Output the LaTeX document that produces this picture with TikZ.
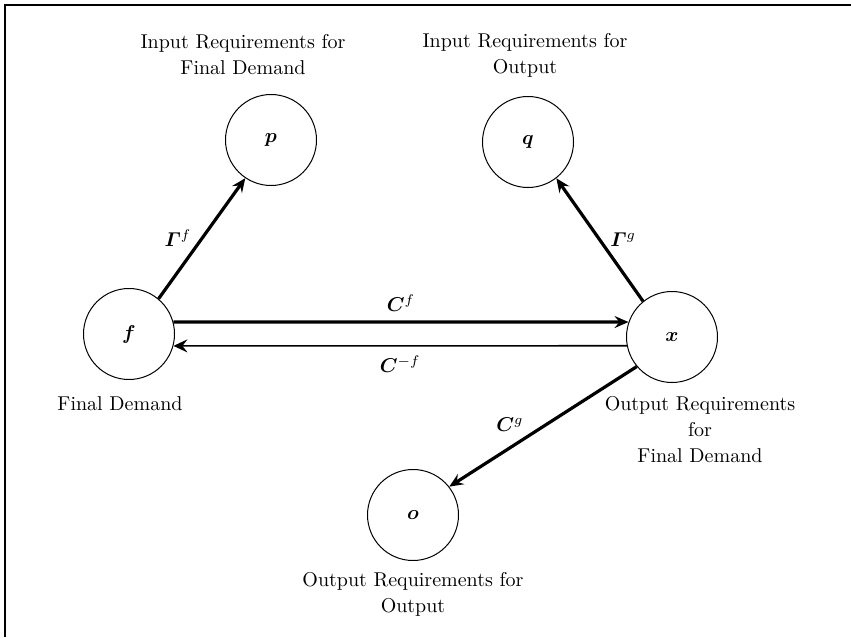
\documentclass[tikz,border=0pt]{standalone}
\usepackage{amsmath}
\usepackage{bm}
\usetikzlibrary{arrows.meta}
\begin{document}
\begin{tikzpicture}[x=0.5pt,y=-0.5pt,
  vnode/.style={circle,draw,line width=0.5pt,minimum size=45.5pt,inner sep=0pt},
  captext/.style={align=center,font=\normalsize,inner sep=0pt},
  thickarr/.style={line width=1.6pt,-{Stealth[length=7pt,width=6pt,inset=2.5pt]}},
  thinarr/.style={line width=0.8pt,-{Stealth[length=7pt,width=6.5pt,inset=2.5pt]}},
  lab/.style={inner sep=1.5pt}]
\useasboundingbox (0,0) rectangle (851,637);
\draw[line width=0.8pt] (5,637) -- (5,5) -- (851,5);
\node[vnode] (p) at (271,140) {$\bm{p}$};
\node[vnode] (q) at (528,142) {$\bm{q}$};
\node[vnode] (f) at (129,334) {$\bm{f}$};
\node[vnode] (x) at (672,337) {$\bm{x}$};
\node[vnode] (o) at (413,515) {$\bm{o}$};
\node[captext] (lp) at (243,55) {Input Requirements for\\[1pt] Final Demand};
\node[captext] (lq) at (525,55) {Input Requirements for\\[1pt] Output};
\node[captext] (lf) at (120,404) {Final Demand};
\node[captext] (lx) at (700,430) {Output Requirements\\[1pt] for\\[1pt] Final Demand};
\node[captext] (lo) at (413,594) {Output Requirements for\\[1pt] Output};
\draw[thickarr] (f.50) -- node[lab,midway,left=3pt] {$\bm{\varGamma}^{f}$} (p.236);
\draw[thickarr] (x.129) -- node[lab,midway,right=3pt] {$\bm{\varGamma}^{g}$} (q.308);
\draw[thickarr] (f.15) -- node[lab,midway,above=3pt] {$\bm{C}^{f}$} (x.161);
\draw[thinarr] (x.191) -- node[lab,midway,below=3pt] {$\bm{C}^{-f}$} (f.345);
\draw[thickarr] (x.220) -- node[lab,pos=0.58,above left=0pt] {$\bm{C}^{g}$} (o.38);
\end{tikzpicture}
\end{document}
